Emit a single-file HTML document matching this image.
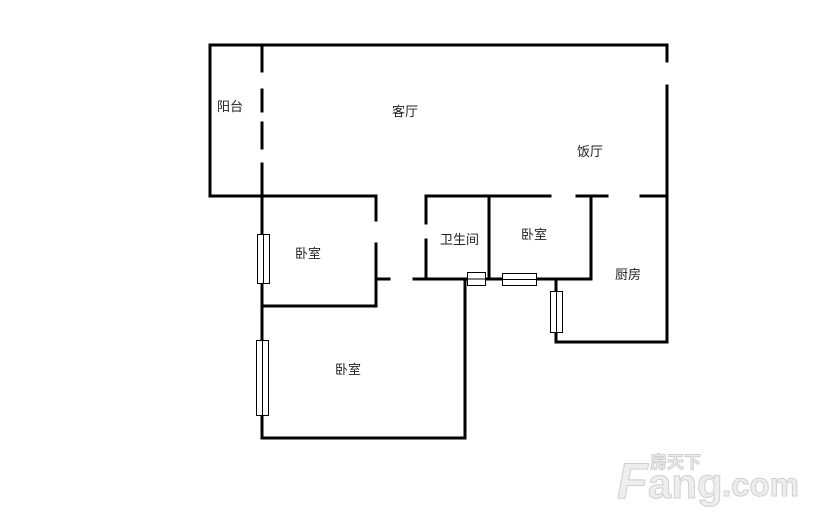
<!DOCTYPE html>
<html><head><meta charset="utf-8"><style>
html,body{margin:0;padding:0;background:#fff;}
svg{display:block;}
text{font-family:"Liberation Sans","Noto Sans CJK SC",sans-serif;font-size:13px;fill:#222;}
</style></head><body>
<svg width="814" height="519" viewBox="0 0 814 519" xmlns="http://www.w3.org/2000/svg">
<rect width="814" height="519" fill="#fff"/>
<g stroke="#000" stroke-width="3" fill="none" stroke-linecap="square">
<path d="M210 45 H667 V61"/>
<path d="M667 86 V342 H556 V279"/>
<path d="M210 45 V196 H376 V220"/>
<path d="M262 45 V71 M262 90 V111 M262 123 V148 M262 164 V438 H465 V279"/>
<path d="M376 244 V306 H262"/>
<path d="M376 279 H389 M414 279 H591 V196 M426 279 V240 M426 223 V196 H550 M577 196 H607 M641 196 H666 M489 196 V279"/>
</g>
<g stroke="#000" stroke-width="1" fill="#fff">
<rect x="257.5" y="234.5" width="12" height="49"/><line x1="263.5" y1="234.5" x2="263.5" y2="283.5"/>
<rect x="256.5" y="340.5" width="12" height="75"/><line x1="262.5" y1="340.5" x2="262.5" y2="415.5"/>
<rect x="550.5" y="291.5" width="12" height="41"/><line x1="556.5" y1="291.5" x2="556.5" y2="332.5"/>
<rect x="467.5" y="272.5" width="18" height="13"/><line x1="467.5" y1="279" x2="485.5" y2="279"/>
<rect x="502.5" y="273.5" width="34" height="12"/><line x1="502.5" y1="279.5" x2="536.5" y2="279.5"/>
</g>
<text x="217" y="111">阳台</text>
<text x="392" y="116">客厅</text>
<text x="577" y="156">饭厅</text>
<text x="295" y="258">卧室</text>
<text x="440" y="244">卫生间</text>
<text x="521" y="239">卧室</text>
<text x="615" y="279">厨房</text>
<text x="335" y="374">卧室</text>
<g style="font-weight:bold" stroke="#cfcfcf" stroke-width="1">
<text x="617" y="498" style="font-size:50px;fill:#eee;font-style:italic">F</text>
<text x="648" y="498" style="font-size:42px;fill:#eee">ang</text>
<text x="722" y="496" style="font-size:33px;fill:#eee">.com</text>
<text x="650" y="468" style="font-size:17px;fill:#eee">房天下</text>
</g>
</svg>
</body></html>
